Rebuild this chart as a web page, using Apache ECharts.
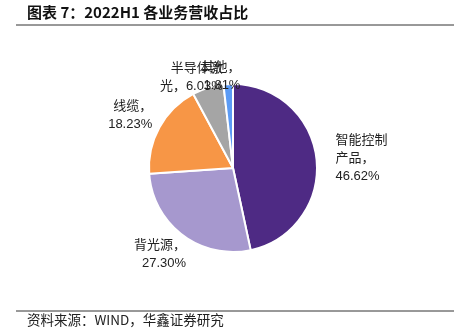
<!DOCTYPE html>
<html><head><meta charset="utf-8">
<script src="https://cdn.jsdelivr.net/npm/echarts@6/dist/echarts.min.js"></script>
<style>html,body{margin:0;padding:0;background:#fff}#c{width:454px;height:329px}</style>
</head><body><div id="c"></div>
<script>
var categories = ['智能控制产品', '背光源', '线缆', '半导体激光', '其他'];
var values = [46.62, 27.30, 18.23, 6.03, 1.81];
var labelTexts = ['智能控制\n产品，\n46.62%', '背光源，\n27.30%', '线缆，\n18.23%', '半导体激\n光，6.03%', '其他，\n1.81%'];
var colors = ['#4E2A84', '#A698CE', '#F79646', '#A5A5A5', '#5B9BF5'];
var labelShift = [[0, 1], [17, 8], [10, -5], [24, 3], [18, 6]];

var chart = echarts.init(document.getElementById('c'), null, {renderer: 'canvas'});
var data = categories.map(function (n, i) {
  return {name: n, value: values[i], itemStyle: {color: colors[i]}, label: {formatter: labelTexts[i]}};
});
var cjk = 'Liberation Sans, "Noto Sans CJK SC", sans-serif';
chart.setOption({
  animation: false,
  graphic: [
    {type: 'text', left: 27, top: 5, style: {text: '图表 7：2022H1 各业务营收占比', font: 'bold 15px "Noto Sans CJK SC", sans-serif', fill: '#111'}},
    {type: 'line', shape: {x1: 16, y1: 25, x2: 454, y2: 25}, style: {stroke: '#333', lineWidth: 1}},
    {type: 'line', shape: {x1: 16, y1: 311, x2: 454, y2: 311}, style: {stroke: '#333', lineWidth: 1}},
    {type: 'text', left: 27, top: 313, style: {text: '资料来源：WIND，华鑫证券研究', font: '13.5px "Noto Sans CJK SC", sans-serif', fill: '#222'}}
  ],
  series: [{
    type: 'pie',
    center: [233, 168],
    radius: 84,
    startAngle: 90,
    clockwise: true,
    itemStyle: {borderColor: '#fff', borderWidth: 2},
    label: {show: true, position: 'outside', fontSize: 13, lineHeight: 18, color: '#222', fontFamily: cjk, align: 'center'},
    labelLine: {show: false, length: 14, length2: 0},
    avoidLabelOverlap: false,
    labelLayout: function (p) {
      var s = labelShift[p.dataIndex];
      return {dx: s[0], dy: s[1], hideOverlap: false};
    },
    data: data
  }]
});
</script></body></html>
